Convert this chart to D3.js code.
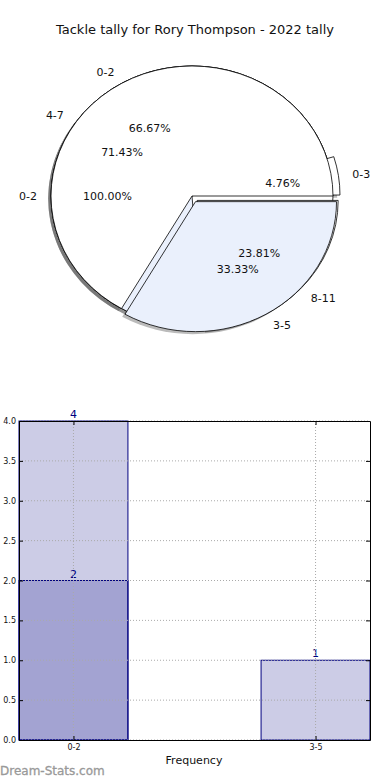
<!DOCTYPE html>
<html>
<head>
<meta charset="utf-8">
<script src="https://cdn.jsdelivr.net/npm/d3@7"></script>
<style>
  body { margin: 0; background: #fff; }
  svg { display: block; font-family: "DejaVu Sans", sans-serif; }
</style>
</head>
<body>
<svg id="chart" width="390" height="780"></svg>
<script>
const title = "Tackle tally for Rory Thompson - 2022 tally";

// pies are drawn over each other, in this order
const pieALabels = ["0-2"];
const pieAValues = [100.00];
const pieAExplode = [0];

const pieBLabels = ["0-3", "4-7", "8-11"];
const pieBValues = [4.76, 71.43, 23.81];
const pieBExplode = [0.05, 0, 0.05];

const pieCLabels = ["0-2", "3-5"];
const pieCValues = [66.67, 33.33];
const pieCExplode = [0, 0.05];

const sliceColors = ["#ffffff", "#eaf0fc", "#ffffff"];

// bar chart
const barCategories = ["0-2", "3-5"];
const barBackValues = [4, 1];
const barFrontValues = [2, null];
const yTicks = [0, 0.5, 1, 1.5, 2, 2.5, 3, 3.5, 4];

const svg = d3.select("#chart");

svg.append("text")
  .attr("x", 195).attr("y", 34)
  .attr("text-anchor", "middle")
  .attr("font-size", 13)
  .attr("fill", "#111")
  .text(title);

// ---------- pies ----------
const cx = 192, cy = 196, rx = 141, ry = 130;
const pie = d3.pie().sort(null).value(d => d)
  .startAngle(Math.PI / 2).endAngle(Math.PI / 2 - 2 * Math.PI);
const arc = d3.arc().innerRadius(0).outerRadius(1);

const pies = [
  {labels: pieALabels, values: pieAValues, explode: pieAExplode},
  {labels: pieBLabels, values: pieBValues, explode: pieBExplode},
  {labels: pieCLabels, values: pieCValues, explode: pieCExplode}
];

const pieG = svg.append("g").attr("transform", `translate(${cx},${cy}) scale(${rx},${ry})`);
const shadowG = pieG.append("g");
const wedgeG = pieG.append("g");
const textG = svg.append("g").attr("font-size", 11).attr("fill", "#111");

pies.forEach(p => {
  const slices = pie(p.values);
  slices.forEach((s, i) => {
    const mid = (s.startAngle + s.endAngle) / 2;
    const e = p.explode[i];
    const ox = e * Math.sin(mid), oy = -e * Math.cos(mid);
    shadowG.append("path")
      .attr("d", arc(s))
      .attr("transform", `translate(${ox - 0.02},${oy + 0.02})`)
      .attr("fill", "#555")
      .attr("opacity", 0.4);
    wedgeG.append("path")
      .attr("d", arc(s))
      .attr("transform", `translate(${ox},${oy})`)
      .attr("fill", sliceColors[i % sliceColors.length])
      .attr("stroke", "#000")
      .attr("stroke-width", 0.8)
      .attr("vector-effect", "non-scaling-stroke");

    const lx = cx + rx * (e + 1.1) * Math.sin(mid);
    const ly = cy - ry * (e + 1.1) * Math.cos(mid);
    textG.append("text")
      .attr("x", lx).attr("y", ly)
      .attr("dy", "0.35em")
      .attr("text-anchor", Math.sin(mid) < 0 ? "end" : "start")
      .text(p.labels[i]);
    const px = cx + rx * (e + 0.6) * Math.sin(mid);
    const py = cy - ry * (e + 0.6) * Math.cos(mid);
    textG.append("text")
      .attr("x", px).attr("y", py)
      .attr("dy", "0.35em")
      .attr("text-anchor", "middle")
      .text(p.values[i].toFixed(2) + "%");
  });
});

// ---------- bars ----------
const plotLeft = 19, plotRight = 370, plotTop = 421, plotBottom = 740;
const barW = 0.45;
const x = d3.scaleLinear().domain([-barW / 2, barCategories.length - 1 + barW / 2]).range([plotLeft, plotRight]);
const y = d3.scaleLinear().domain([0, 4]).range([plotBottom, plotTop]);
const navy = "#000080";

const barG = svg.append("g");
function drawBars(values) {
  values.forEach((v, i) => {
    if (v == null) return;
    barG.append("rect")
      .attr("x", x(i - barW / 2)).attr("y", y(v))
      .attr("width", x(i + barW / 2) - x(i - barW / 2))
      .attr("height", y(0) - y(v))
      .attr("fill", navy).attr("fill-opacity", 0.2)
      .attr("stroke", navy).attr("stroke-width", 1);
    barG.append("text")
      .attr("x", x(i)).attr("y", y(v) - 3)
      .attr("text-anchor", "middle")
      .attr("font-size", 11)
      .attr("fill", navy)
      .text(v);
  });
}
drawBars(barBackValues);
drawBars(barFrontValues);

// grid over the bars
const grid = svg.append("g").attr("stroke", "#aaa").attr("stroke-dasharray", "1,2").attr("stroke-width", 1);
yTicks.forEach(t => {
  grid.append("line").attr("x1", plotLeft).attr("x2", plotRight).attr("y1", y(t)).attr("y2", y(t));
});
barCategories.forEach((c, i) => {
  grid.append("line").attr("x1", x(i)).attr("x2", x(i)).attr("y1", plotTop).attr("y2", plotBottom);
});

const fmt = d3.format(".1f");
const axL = svg.append("g").attr("transform", `translate(${plotLeft},0)`)
  .call(d3.axisLeft(y).tickValues(yTicks).tickFormat(fmt).tickSizeInner(-4).tickSizeOuter(0).tickPadding(3));
const axR = svg.append("g").attr("transform", `translate(${plotRight},0)`)
  .call(d3.axisRight(y).tickValues(yTicks).tickFormat("").tickSizeInner(-4).tickSizeOuter(0));
const axB = svg.append("g").attr("transform", `translate(0,${plotBottom})`)
  .call(d3.axisBottom(x).tickValues(d3.range(barCategories.length)).tickFormat(i => barCategories[i]).tickSizeInner(-4).tickSizeOuter(0).tickPadding(4));
const axT = svg.append("g").attr("transform", `translate(0,${plotTop})`)
  .call(d3.axisTop(x).tickValues(d3.range(barCategories.length)).tickFormat("").tickSizeInner(-4).tickSizeOuter(0));
[axL, axR, axB, axT].forEach(a => {
  a.selectAll("text").attr("font-size", 8).attr("fill", "#111").attr("font-family", "DejaVu Sans, sans-serif");
  a.selectAll("line").attr("stroke", "#000");
  a.select(".domain").attr("stroke", "#000");
});

svg.append("text")
  .attr("x", 194).attr("y", 764)
  .attr("text-anchor", "middle")
  .attr("font-size", 11)
  .attr("fill", "#111")
  .text("Frequency");

svg.append("text")
  .attr("x", 0).attr("y", 775)
  .attr("font-size", 12)
  .attr("fill", "#999")
  .attr("stroke", "#999").attr("stroke-width", 0.3)
  .text("Dream-Stats.com");
</script>
</body>
</html>
